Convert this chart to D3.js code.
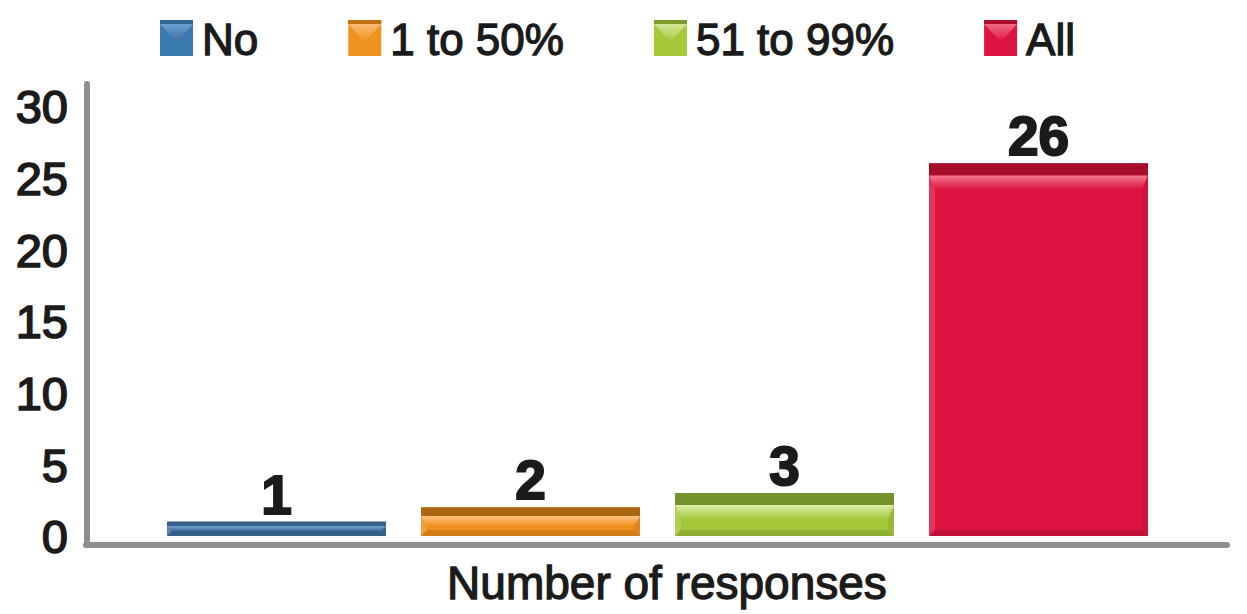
<!DOCTYPE html>
<html>
<head>
<meta charset="utf-8">
<script src="https://cdn.jsdelivr.net/npm/d3@7"></script>
<style>
  html, body { margin: 0; padding: 0; background: #ffffff; }
  svg { display: block; }
  text { font-family: "Liberation Sans", Arial, sans-serif; fill: #1b1b1b; }
</style>
</head>
<body>
<svg id="chart" width="1247" height="614"></svg>
<script>
// ---- data ----
const categories = ["No", "1 to 50%", "51 to 99%", "All"];
const values = [1, 2, 3, 26];
const yTicks = [0, 5, 10, 15, 20, 25, 30];
const axisTitle = "Number of responses";

// ---- styles ----
const palettes = [
  { strip: "#35628c", body: "#3e6d9b", hi: "#74a6d6", legendBody: "#3b7ab0", legendStrip: "#2e6795" },
  { strip: "#ae650f", body: "#f0901c", hi: "#fcc484", legendBody: "#f0921e", legendStrip: "#c0720e" },
  { strip: "#74932a", body: "#a4c83a", hi: "#dcedaa", legendBody: "#a6c93a", legendStrip: "#7d9b2a" },
  { strip: "#a60c2b", body: "#dc1442", hi: "#f57a90", legendBody: "#dc1442", legendStrip: "#b00c30" }
];

const svg = d3.select("#chart");
const defs = svg.append("defs");

palettes.forEach((p, i) => {
  const g = defs.append("linearGradient").attr("id", "hi" + i)
    .attr("x1", 0).attr("y1", 0).attr("x2", 0).attr("y2", 1);
  g.append("stop").attr("offset", "0%").attr("stop-color", p.hi);
  g.append("stop").attr("offset", "100%").attr("stop-color", p.body);
});

const y = d3.scaleLinear().domain([0, 30]).range([536, 106]);
const x = d3.scaleBand().domain(categories).range([149.5, 1165.5])
  .paddingInner(0.138).paddingOuter(0.069);

// ---- axes lines ----
const axisColor = "#8d8f93";
svg.append("line").attr("x1", 87).attr("x2", 87).attr("y1", 84).attr("y2", 545)
  .attr("stroke", axisColor).attr("stroke-width", 6).attr("stroke-linecap", "round");
svg.append("line").attr("x1", 86).attr("x2", 1227).attr("y1", 545).attr("y2", 545)
  .attr("stroke", axisColor).attr("stroke-width", 6).attr("stroke-linecap", "round");

// ---- y axis tick labels via d3 axis ----
const yAxis = d3.axisLeft(y).tickValues(yTicks).tickSize(0).tickPadding(0);
const yg = svg.append("g").attr("transform", "translate(68,0)").call(yAxis);
yg.select(".domain").remove();
yg.selectAll("text")
  .attr("x", 0).attr("dy", "0.36em")
  .style("font-family", "'Liberation Sans', Arial, sans-serif")
  .style("font-size", "47px")
  .attr("fill", "#1b1b1b")
  .attr("stroke", "#1b1b1b").attr("stroke-width", 1.6)
  .attr("text-anchor", "end");

// ---- bevelled bar drawing ----
function bevelBar(g, bx, by, w, h, p, i, strip, top, side) {
  const s = Math.min(strip, h * 0.3);
  const t = Math.min(top, (h - s) * 0.5);
  const b = Math.min(side, (h - s) * 0.5);
  g.append("rect").attr("x", bx).attr("y", by).attr("width", w).attr("height", h).attr("fill", p.body);
  g.append("polygon").attr("points", [[bx, by + s], [bx + b, by + s + t], [bx + b, by + h - b], [bx, by + h]].join(" "))
    .attr("fill", "#ffffff").attr("opacity", 0.14);
  g.append("polygon").attr("points", [[bx + w, by + s], [bx + w - b, by + s + t], [bx + w - b, by + h - b], [bx + w, by + h]].join(" "))
    .attr("fill", "#000000").attr("opacity", 0.07);
  g.append("polygon").attr("points", [[bx, by + h], [bx + b, by + h - b], [bx + w - b, by + h - b], [bx + w, by + h]].join(" "))
    .attr("fill", "#000000").attr("opacity", 0.12);
  g.append("polygon").attr("points", [[bx, by + s], [bx + w, by + s], [bx + w - b, by + s + t], [bx + b, by + s + t]].join(" "))
    .attr("fill", "url(#hi" + i + ")");
  g.append("rect").attr("x", bx).attr("y", by).attr("width", w).attr("height", s).attr("fill", p.strip);
}

const bars = svg.append("g");
categories.forEach((c, i) => {
  const bx = x(c), by = y(values[i]), w = x.bandwidth(), h = y(0) - y(values[i]);
  bevelBar(bars, bx, by, w, h, palettes[i], i, 12, 14, 6);
});

// ---- value labels ----
svg.append("g").selectAll("text").data(values).join("text")
  .attr("x", (d, i) => x(categories[i]) + x.bandwidth() / 2)
  .attr("y", d => y(d) - 8)
  .attr("text-anchor", "middle")
  .style("font-size", "55px").style("font-weight", "bold")
  .attr("stroke", "#1b1b1b").attr("stroke-width", 2)
  .text(d => d);

// ---- x axis title ----
svg.append("text").attr("x", 667).attr("y", 599).attr("text-anchor", "middle")
  .style("font-size", "46px").attr("stroke", "#1b1b1b").attr("stroke-width", 1.3)
  .text(axisTitle);

// ---- legend ----
const legend = svg.append("g");
let lx = 160;
categories.forEach((c, i) => {
  const p = palettes[i];
  const lg = legend.append("g");
  const sq = { x: lx, y: 20, w: 33, h: 36 };
  lg.append("rect").attr("x", sq.x).attr("y", sq.y).attr("width", sq.w).attr("height", sq.h).attr("fill", p.legendBody);
  lg.append("polygon").attr("points", [[sq.x, sq.y + 4], [sq.x + sq.w, sq.y + 4], [sq.x + sq.w / 2, sq.y + 22]].join(" "))
    .attr("fill", "url(#hi" + i + ")").attr("opacity", 0.85);
  lg.append("rect").attr("x", sq.x).attr("y", sq.y).attr("width", sq.w).attr("height", 4).attr("fill", p.legendStrip);
  const t = lg.append("text").attr("x", lx + 42).attr("y", 55)
    .style("font-size", "44px").attr("stroke", "#1b1b1b").attr("stroke-width", 1.3)
    .text(c);
  lx = lx + 42 + t.node().getComputedTextLength() + 90;
});
</script>
</body>
</html>
